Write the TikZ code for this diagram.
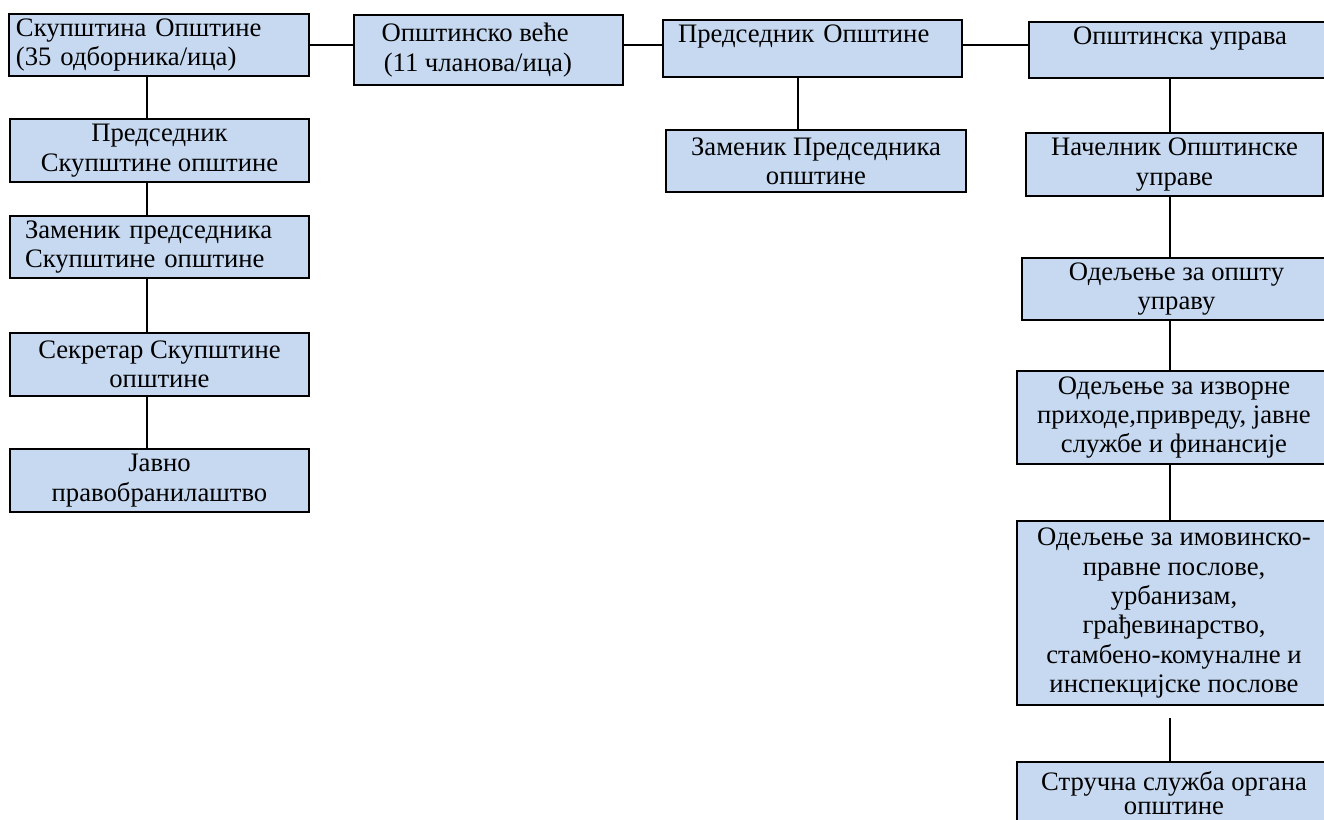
\documentclass[tikz,border=0pt]{standalone}
\usepackage{fontspec}
\setmainfont{Liberation Serif}
\usetikzlibrary{positioning}
\definecolor{boxblue}{HTML}{C6D9F1}

\tikzset{
  unit/.style={draw, fill=boxblue, line width=1.5pt, rectangle, inner sep=0pt,
    anchor=north west, align=center, font=\fontsize{20}{22}\selectfont},
  wh/.style 2 args={minimum width=#1*0.75pt, minimum height=#2*0.75pt},
  lefttext/.style={align=left, text width=#1*0.75pt},
  link/.style={line width=1pt},
}

\begin{document}
\begin{tikzpicture}[x=0.75pt, y=-0.75pt]
\useasboundingbox (0,0) rectangle (1324,819);
% top row
\node[unit, wh={300}{62}, lefttext=286] (skup) at (8,13) {Скупштина Општине\\(35 одборника/ица)};
\node[unit, wh={269}{70}] (vece) at (353,14) {Општинско веће\hspace*{20pt}\\(11 чланова/ица)\hspace*{16pt}};
\node[unit, wh={299}{57}, lefttext=269] (pred) at (662,19) {Председник Општине\\\mbox{}};
\node[unit, wh={302}{56}] (uprava) at (1028,21) {Општинска управа\\\mbox{}};
% left column
\node[unit, wh={299}{63}] (predskup) at (9,118) {Председник\\Скупштине општине};
\node[unit, wh={299}{62}, lefttext=269] (zamskup) at (9,215) {Заменик председника\\Скупштине општине};
\node[unit, wh={299}{63}] (sekr) at (9,332) {Секретар Скупштине\\општине};
\node[unit, wh={299}{63}] (pravo) at (9,448) {Јавно\\правобранилаштво};
% middle
\node[unit, wh={300}{62}] (zampred) at (665,129) {Заменик Председника\\општине};
% right column
\node[unit, wh={297}{63}] (nacel) at (1025,132) {Начелник Општинске\\управе};
\node[unit, wh={309}{62}] (opsta) at (1021,257) {Одељење за општу\\управу};
\node[unit, wh={314}{93}] (izvor) at (1016,370) {Одељење за изворне\\приходе,привреду, јавне\\службе и финансије};
\node[unit, wh={314}{184}] (imov) at (1016,520) {Одељење за имовинско-\\правне послове,\\урбанизам,\\грађевинарство,\\стамбено-комуналне и\\инспекцијске послове};
\node[unit, wh={314}{62}, font=\fontsize{20}{18.5}\selectfont] (struc) at (1016,761) {Стручна служба органа\\општине};

\coordinate (lx) at (147,0);
\coordinate (mx) at (798,0);
\coordinate (rx) at (1170,0);

% connectors
\draw[link] (skup.east) -- (vece.west |- skup.east);
\draw[link] (vece.east |- skup.east) -- (pred.west |- skup.east);
\draw[link] (pred.east |- skup.east) -- (uprava.west |- skup.east);
\draw[link] (skup.south -| lx) -- (predskup.north -| lx);
\draw[link] (predskup.south -| lx) -- (zamskup.north -| lx);
\draw[link] (zamskup.south -| lx) -- (sekr.north -| lx);
\draw[link] (sekr.south -| lx) -- (pravo.north -| lx);
\draw[link] (pred.south -| mx) -- (zampred.north -| mx);
\draw[link] (uprava.south -| rx) -- (nacel.north -| rx);
\draw[link] (nacel.south -| rx) -- (opsta.north -| rx);
\draw[link] (opsta.south -| rx) -- (izvor.north -| rx);
\draw[link] (izvor.south -| rx) -- (imov.north -| rx);
\draw[link, shorten <=9pt] (imov.south -| rx) -- (struc.north -| rx);
\end{tikzpicture}
\end{document}
